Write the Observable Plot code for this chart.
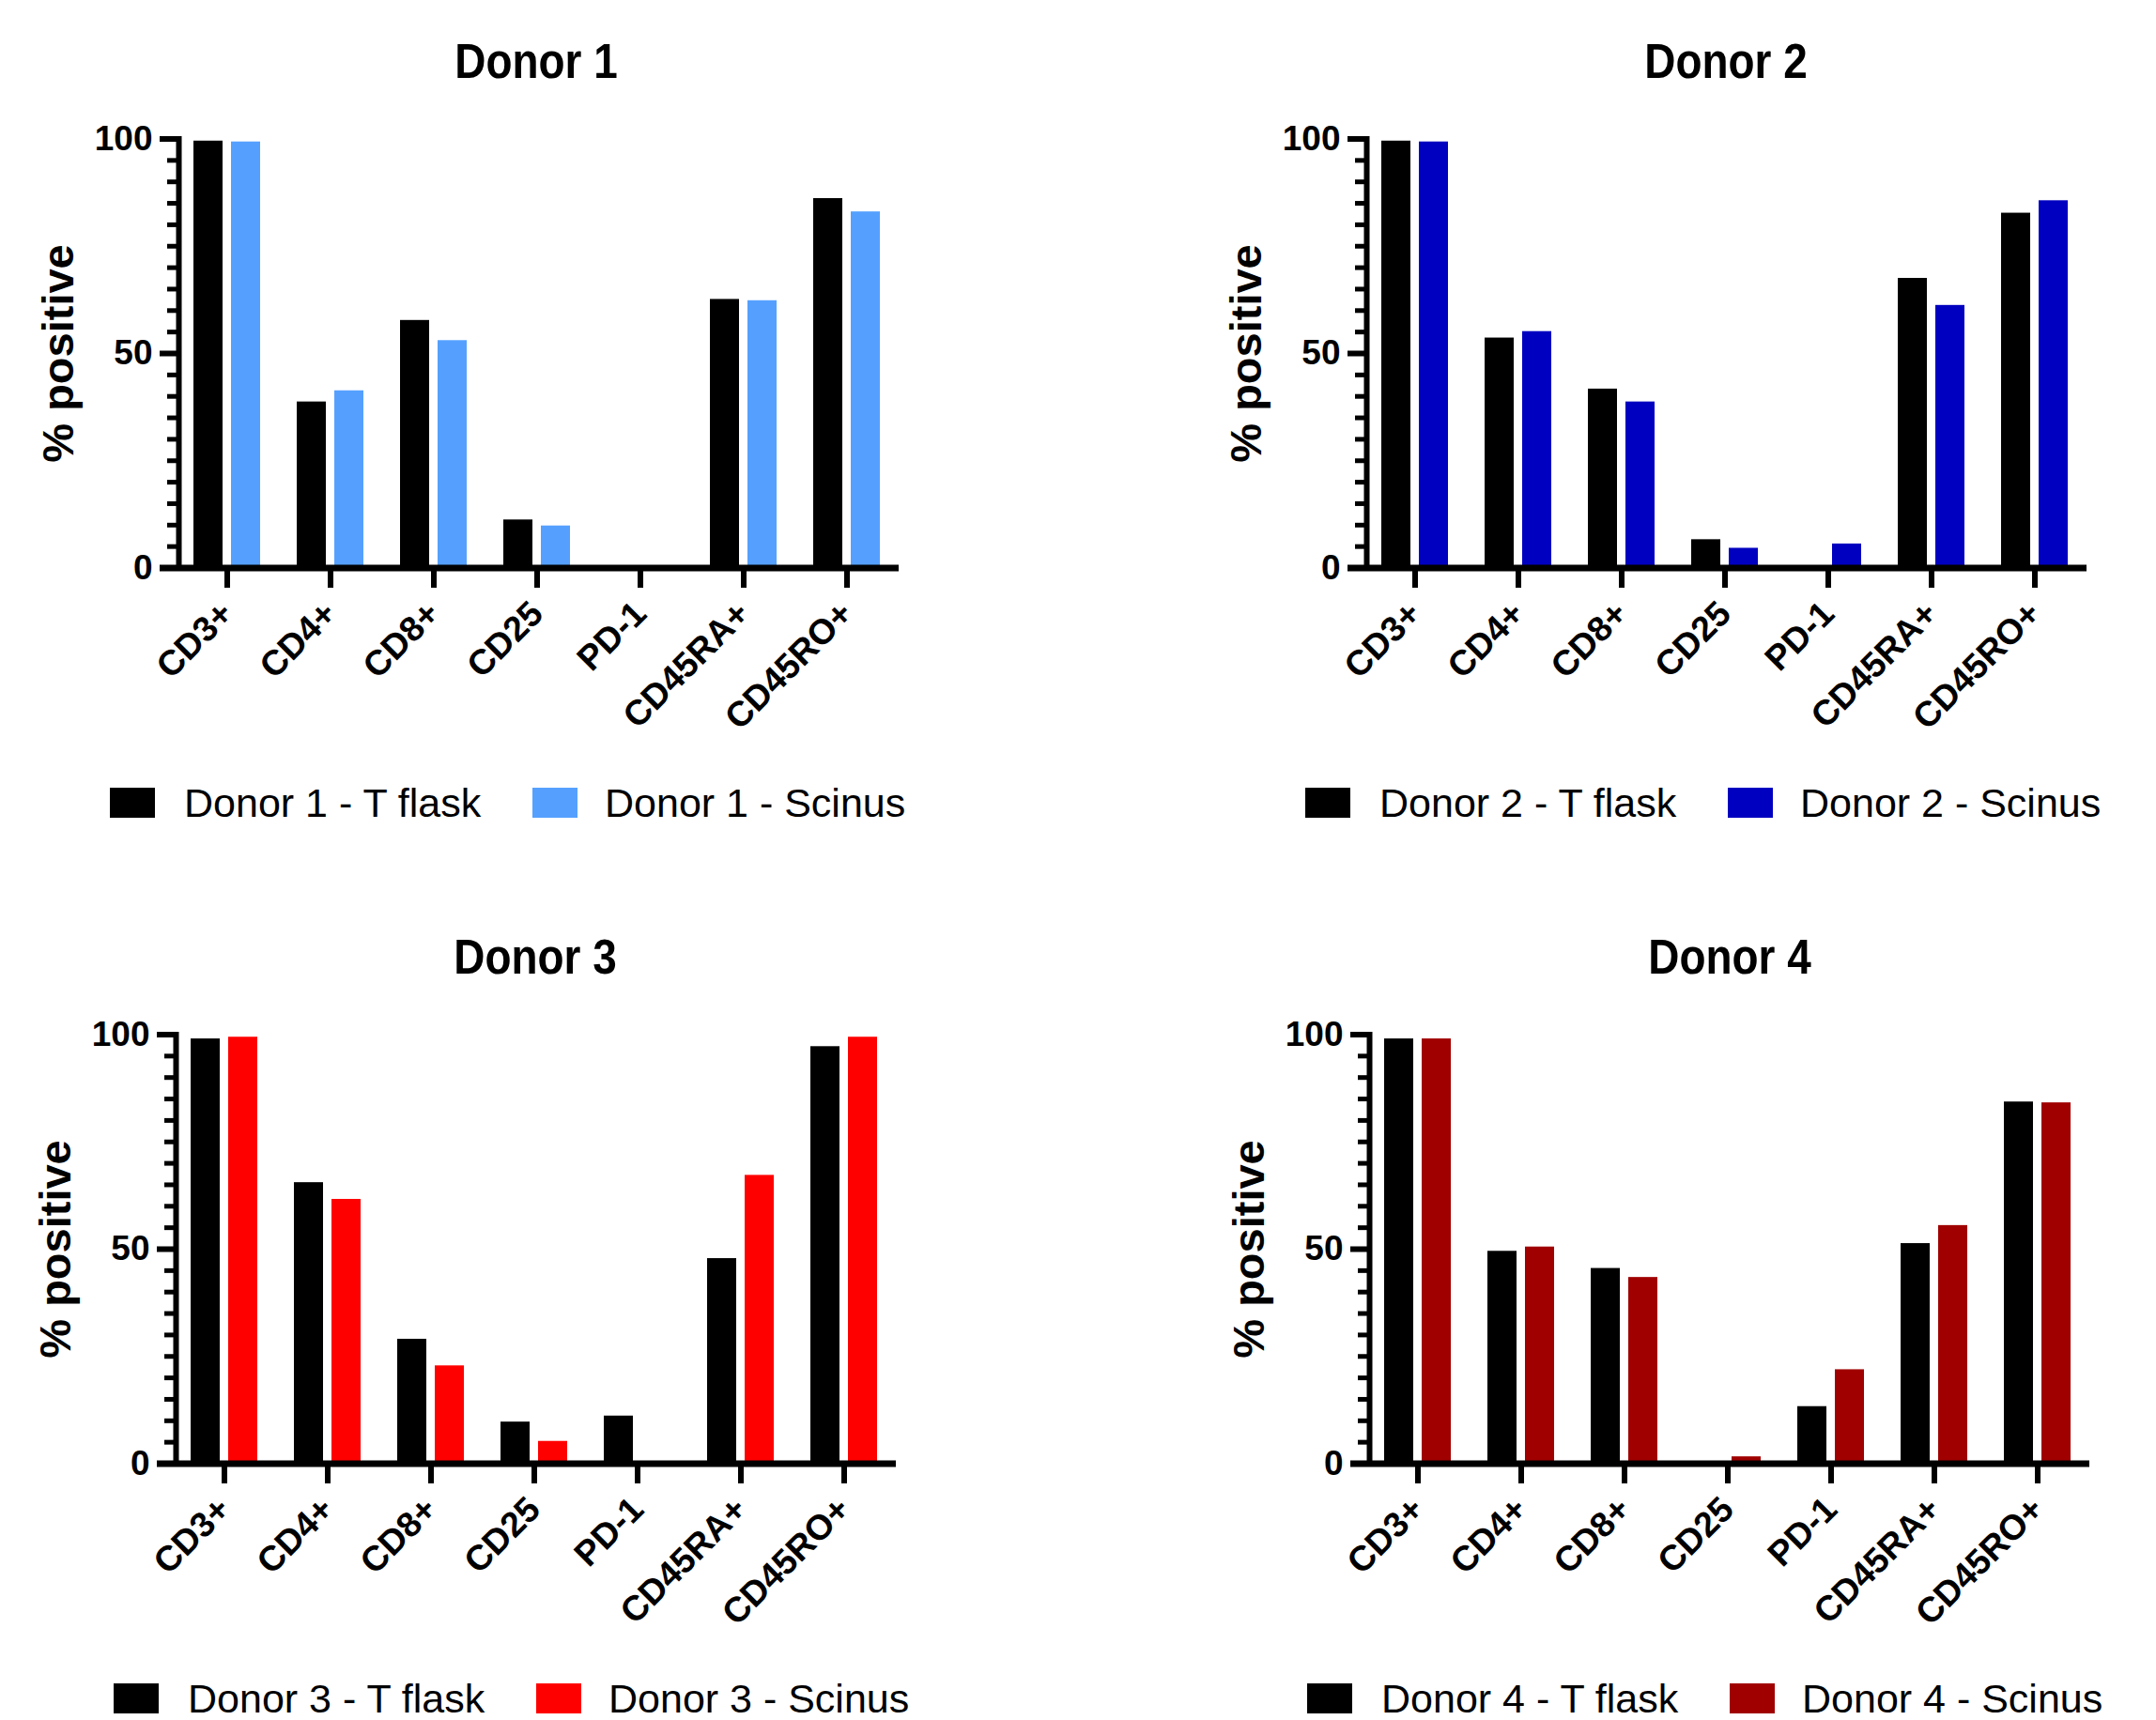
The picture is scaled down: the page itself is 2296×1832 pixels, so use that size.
<!DOCTYPE html>
<html>
<head>
<meta charset="utf-8">
<script src="https://cdn.jsdelivr.net/npm/d3@7"></script>
<script src="https://cdn.jsdelivr.net/npm/@observablehq/plot@0.6"></script>
<style>
  html, body { margin: 0; padding: 0; background: #fff; }
  #root { position: relative; width: 2296px; height: 1832px; overflow: hidden; background: #fff;
          font-family: "Liberation Sans", Arial, sans-serif; color: #000; }
  .title { position: absolute; width: 600px; text-align: center; font-weight: bold; font-size: 51px;
           line-height: 1; white-space: nowrap; transform: scaleX(0.9); transform-origin: center; }
  .swatch { position: absolute; width: 48px; height: 32px; }
  .ltext { position: absolute; font-size: 43px; line-height: 1; white-space: nowrap; }
</style>
</head>
<body>
<div id="root"></div>
<script>
const markers = ["CD3+", "CD4+", "CD8+", "CD25", "PD-1", "CD45RA+", "CD45RO+"];

const donor1TFlask = [99.5, 38.7, 57.7, 11.2, 0, 62.6, 86.1];
const donor1Scinus = [99.3, 41.3, 53.0, 9.8, 0, 62.3, 83.0];

const donor2TFlask = [99.5, 53.6, 41.7, 6.6, 0, 67.5, 82.7];
const donor2Scinus = [99.3, 55.1, 38.7, 4.6, 5.6, 61.2, 85.6];

const donor3TFlask = [99.0, 65.5, 29.0, 9.7, 11.1, 47.8, 97.2];
const donor3Scinus = [99.4, 61.6, 22.8, 5.2, 0, 67.2, 99.4];

const donor4TFlask = [99.0, 49.5, 45.5, 0, 13.3, 51.3, 84.3];
const donor4Scinus = [99.0, 50.5, 43.4, 1.6, 21.9, 55.5, 84.1];

const majorTicks = [0, 50, 100];
const minorTicks = d3.range(5, 100, 5);

const FONT = '"Liberation Sans", Arial, sans-serif';

const panels = [
  {name: "Donor 1", t: donor1TFlask, s: donor1Scinus, color: "#55A0FF", dx: 0,    dy: 0,   titleX: 571,  legendDx: 0},
  {name: "Donor 2", t: donor2TFlask, s: donor2Scinus, color: "#0000C0", dx: 1265, dy: 0,   titleX: 1838, legendDx: 1273},
  {name: "Donor 3", t: donor3TFlask, s: donor3Scinus, color: "#FF0000", dx: -3.5, dy: 954, titleX: 570,  legendDx: 4},
  {name: "Donor 4", t: donor4TFlask, s: donor4Scinus, color: "#A00000", dx: 1268, dy: 954, titleX: 1842, legendDx: 1275}
];

const root = document.getElementById("root");

for (const p of panels) {
  const rows = markers.map((m, i) => ({marker: m, tflask: p.t[i], scinus: p.s[i]}));

  const svg = Plot.plot({
    width: 1000,
    height: 800,
    marginLeft: 190,
    marginRight: 47,
    marginTop: 147.5,
    marginBottom: 195.5,
    style: {fontFamily: FONT, fontWeight: "bold", color: "#000", background: "transparent", overflow: "visible"},
    x: {type: "band", domain: markers, paddingInner: 0.356, paddingOuter: 0.141, axis: null},
    y: {domain: [0, 100], axis: null},
    marks: [
      Plot.barY(rows, {x: "marker", y: "tflask", fill: "#000", insetRight: 40}),
      Plot.barY(rows, {x: "marker", y: "scinus", fill: p.color, insetLeft: 40}),
      Plot.ruleY([0], {stroke: "#000", strokeWidth: 7, insetLeft: -20, insetRight: -4}),
      Plot.frame({anchor: "left", stroke: "#000", strokeWidth: 6}),
      Plot.axisY({ticks: minorTicks, tickSize: 12, strokeWidth: 5, tickFormat: () => "", label: null}),
      Plot.axisY({ticks: majorTicks, tickSize: 20, tickPadding: 8, strokeWidth: 6, fontSize: 37, fontWeight: "bold", label: null}),
      Plot.axisX({tickSize: 21.5, tickPadding: 21, tickRotate: -45, strokeWidth: 6, fontSize: 37.5, fontWeight: "bold", label: null}),
      Plot.text(["% positive"], {frameAnchor: "left", textAnchor: "middle", rotate: -90, dx: -128, fontSize: 47, fontWeight: "bold"})
    ]
  });
  svg.style.position = "absolute";
  svg.style.left = p.dx + "px";
  svg.style.top = p.dy + "px";
  root.appendChild(svg);

  // title (baseline at 83 + dy)
  const title = document.createElement("div");
  title.className = "title";
  title.textContent = p.name;
  title.style.left = (p.titleX - 300) + "px";
  title.style.top = (83 + p.dy - 0.8465 * 51) + "px";
  root.appendChild(title);

  // legend
  const items = [
    {label: p.name + " - T flask", color: "#000", sx: 117, tx: 196},
    {label: p.name + " - Scinus", color: p.color, sx: 567, tx: 644}
  ];
  for (const it of items) {
    const sw = document.createElement("div");
    sw.className = "swatch";
    sw.style.background = it.color;
    sw.style.left = (it.sx + p.legendDx) + "px";
    sw.style.top = (839 + p.dy) + "px";
    root.appendChild(sw);
    const tx = document.createElement("div");
    tx.className = "ltext";
    tx.textContent = it.label;
    tx.style.left = (it.tx + p.legendDx) + "px";
    tx.style.top = (870 + p.dy - 0.8465 * 43) + "px";
    root.appendChild(tx);
  }
}
</script>
</body>
</html>
